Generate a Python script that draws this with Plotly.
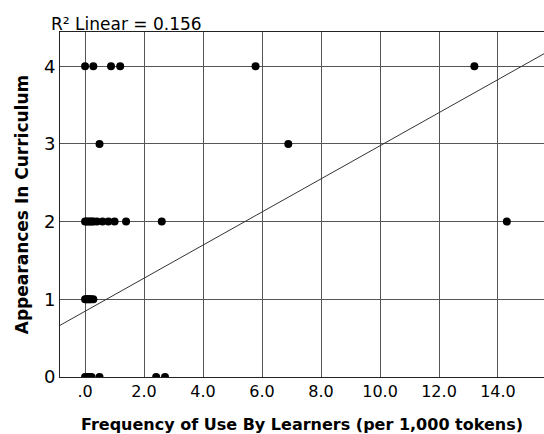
import plotly.graph_objects as go

# Data
freq_y4 = [0.0, 0.28, 0.88, 1.19, 5.78, 13.2]
freq_y3 = [0.49, 6.89]
freq_y2 = [0.0, 0.05, 0.11, 0.17, 0.23, 0.28, 0.4, 0.59, 0.79, 1.0, 1.39, 2.6, 14.3]
freq_y1 = [0.0, 0.04, 0.08, 0.12, 0.16, 0.2, 0.28]
freq_y0 = [0.0, 0.05, 0.1, 0.15, 0.22, 0.49, 2.41, 2.71]

x_vals = freq_y4 + freq_y3 + freq_y2 + freq_y1 + freq_y0
y_vals = ([4] * len(freq_y4) + [3] * len(freq_y3) + [2] * len(freq_y2)
          + [1] * len(freq_y1) + [0] * len(freq_y0))

fit_intercept = 0.846
fit_slope = 0.213
r2_text = "R² Linear = 0.156"

x_tickvals = [0, 2, 4, 6, 8, 10, 12, 14]
x_ticktext = [".0", "2.0", "4.0", "6.0", "8.0", "10.0", "12.0", "14.0"]
y_tickvals = [0, 1, 2, 3, 4]

x_range = [-0.85, 15.56]
y_range = [0, 4.44]

fit_x = [x_range[0], x_range[1]]
fit_y = [fit_intercept + fit_slope * v for v in fit_x]

fig = go.Figure()
fig.add_trace(go.Scatter(x=fit_x, y=fit_y, mode="lines",
                         line=dict(color="#333333", width=1), hoverinfo="skip"))
fig.add_trace(go.Scatter(x=x_vals, y=y_vals, mode="markers",
                         marker=dict(color="black", size=8)))

font_family = "DejaVu Sans"
fig.update_layout(
    width=544, height=434,
    margin=dict(l=60, r=0, t=32, b=57, autoexpand=False),
    paper_bgcolor="white", plot_bgcolor="white",
    showlegend=False,
    font=dict(family=font_family, color="black"),
    annotations=[dict(text=r2_text, x=0, xref="paper", xanchor="left", xshift=-11,
                      y=1, yref="paper", yanchor="bottom", yshift=-4,
                      showarrow=False, font=dict(size=17, family=font_family, color="black"))],
)
fig.update_xaxes(range=x_range, tickvals=x_tickvals, ticktext=x_ticktext,
                 showgrid=True, gridcolor="#555555", gridwidth=1,
                 showline=True, linecolor="#222222", linewidth=1, mirror=True,
                 zeroline=False, ticks="", tickfont=dict(size=16), automargin=False,
                 title=dict(text="<b>Frequency of Use By Learners (per 1,000 tokens)</b>",
                            font=dict(size=16), standoff=18))
fig.update_yaxes(range=y_range, tickvals=y_tickvals,
                 showgrid=True, gridcolor="#555555", gridwidth=1,
                 showline=True, linecolor="#222222", linewidth=1, mirror=True,
                 zeroline=False, ticks="", tickfont=dict(size=18), automargin=False,
                 title=dict(text="<b>Appearances In Curriculum</b>",
                            font=dict(size=17), standoff=10))

fig.write_html("out.html",
               config={"displayModeBar": False},
               post_script="document.body.style.margin='0';document.body.style.overflow='hidden';")
